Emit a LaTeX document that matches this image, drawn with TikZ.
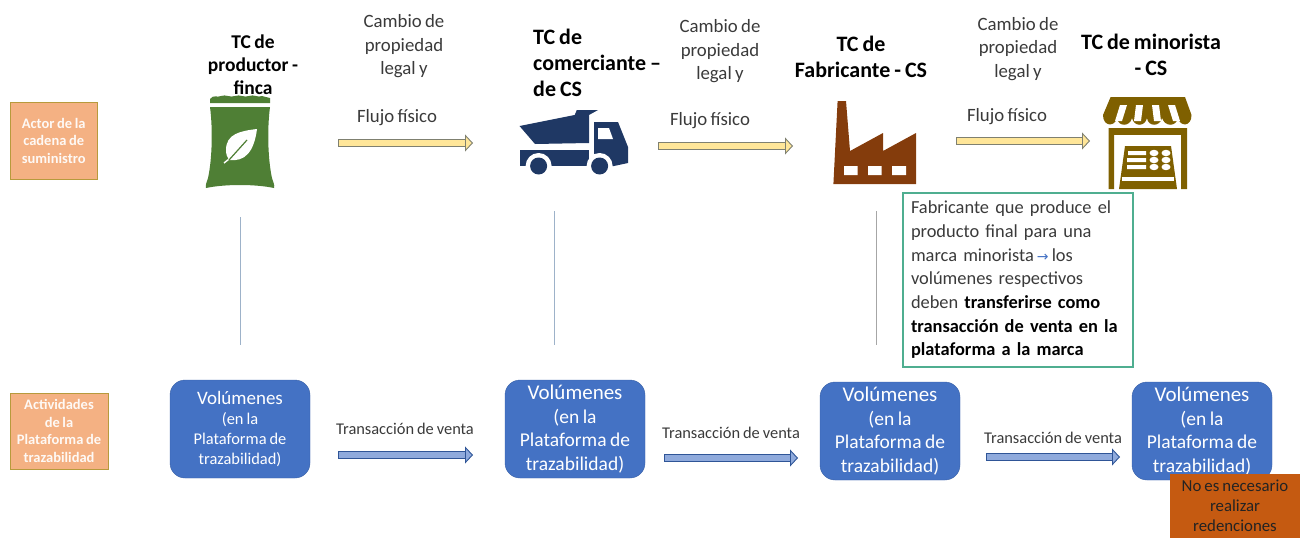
\documentclass[tikz,border=0pt]{standalone}
\usepackage{fontspec}
\setmainfont{Carlito}[WordSpace=0.8]
\newfontfamily\symbfont{DejaVu Sans}
\usetikzlibrary{arrows.meta}
\definecolor{txtgray}{HTML}{3A3A3A}
\definecolor{volblue}{HTML}{4472C4}
\definecolor{actorfill}{HTML}{F4B183}
\definecolor{actoredge}{HTML}{B79A3C}
\definecolor{flowfill}{HTML}{FFE699}
\definecolor{flowedge}{HTML}{7F8070}
\definecolor{ventafill}{HTML}{8FAADC}
\definecolor{ventaedge}{HTML}{2F5597}
\definecolor{bagcol}{HTML}{4F7F35}
\definecolor{truckcol}{HTML}{1F3864}
\definecolor{factcol}{HTML}{843C0C}
\definecolor{shopcol}{HTML}{7F6000}
\definecolor{notecol}{HTML}{4FAE90}
\definecolor{redcol}{HTML}{C55A11}
\definecolor{linecol}{HTML}{9DB2C9}
\tikzset{
  lab/.style={align=center, inner sep=0pt, text=txtgray, font=\fontsize{18.8}{23.5}\selectfont},
  tclab/.style={align=center, inner sep=0pt, text=black, font=\fontsize{22}{26}\selectfont\bfseries},
  small lab/.style={lab, font=\fontsize{16.4}{20}\selectfont},
  actor/.style={draw=actoredge, fill=actorfill, align=center, inner sep=0pt, text=white!92!actorfill,
    font=\fontsize{14.5}{17.5}\selectfont\bfseries},
  vol/.style={fill=volblue, draw=volblue!85!black, rounded corners=15pt, minimum width=140pt, minimum height=98pt,
    align=center, inner sep=0pt, text=white, font=\fontsize{19.5}{23.7}\selectfont},
  flowarr/.style={line cap=rect, line width=.9pt, draw=flowedge, double=flowfill, double distance=6.5pt,
    -{Triangle[length=8pt, width=17pt, line width=.9pt, fill=flowfill, color=flowedge]}},
  ventaarr/.style={line cap=rect, line width=.9pt, draw=ventaedge, double=ventafill, double distance=6.5pt,
    -{Triangle[length=8pt, width=17pt, line width=.9pt, fill=ventafill, color=ventaedge]}},
  vline/.style={draw=linecol, line width=1pt},
}
\begin{document}
\begin{tikzpicture}[x=1pt, y=-1pt]
\useasboundingbox (0,0) rectangle (1300,538);
% row labels
\node[actor, minimum width=87.5pt, minimum height=77pt] (actor) at (53.7,140.5) {Actor de la\\cadena de\\suministro};
\node[actor, minimum width=98pt, minimum height=76pt] (activ) at (59,431) {Actividades\\de la\\Plataforma de\\trazabilidad};
% titles
\node[tclab, font=\fontsize{19.5}{23}\selectfont\bfseries] (tc1) at (253,65) {TC de\\productor -\\finca};
\node[tclab, align=left, anchor=north west] (tc2) at (533,29) {TC de\\comerciante --\\de CS};
\node[tclab] (tc3) at (861,56.5) {TC de\\Fabricante - CS};
\node[tclab] (tc4) at (1151,55) {TC de minorista\\- CS};
% bag
\fill[bagcol] (210,103) -- (210,99) .. controls (214,94) and (217,98) .. (221,96) .. controls (226,94) and (230,98) .. (235,96)
  .. controls (240,94) and (244,98) .. (249,96) .. controls (254,94) and (258,98) .. (262,96) -- (270,98) -- (270,103) -- cycle;
\fill[bagcol] (210,107) -- (270,107) .. controls (267,130) and (268,160) .. (272,178) .. controls (273,182) and (275,185) .. (274,188)
  .. controls (255,184) and (225,184) .. (206,188) .. controls (205,185) and (207,182) .. (208,178) .. controls (212,160) and (213,130) .. (210,107) -- cycle;
\fill[white] (257,129) .. controls (240,131) and (226,134) .. (226,150) .. controls (226,154) and (227,157) .. (229,160)
  .. controls (245,162) and (254,152) .. (257,129) -- cycle;
\draw[white, line width=1.4pt] (229,159) -- (224,163);
\draw[bagcol, line width=1.2pt] (247,140) -- (229,160);
% truck
\fill[truckcol] (519.5,126) -- (574.7,115) -- (576.8,110) -- (598,110) -- (589,115) -- (589,143) -- (535,144) -- cycle;
\fill[truckcol] (519.5,150) -- (589,150) -- (589,166) -- (519.5,166) -- cycle;
\fill[truckcol] (594,122) -- (618,122) -- (628,147) -- (628,163) -- (614,166) -- (594,166) -- cycle;
\fill[white] (538.6,166) circle[radius=13pt] (599.6,166) circle[radius=13pt];
\fill[truckcol] (538.6,166) circle[radius=8.5pt] (599.6,166) circle[radius=8.5pt];
\fill[white] (598,128) -- (609,128) -- (613,139) -- (598,139) -- cycle;
% factory
\fill[factcol] (837.6,101) -- (846,101) -- (850,151) -- (883,133) -- (883,151) -- (916,133) -- (916,184) -- (833.4,184) -- cycle;
\fill[white] (844,166) rectangle (857.5,175) (868,166) rectangle (881.5,175) (892,166) rectangle (906,175);
% shop
\fill[shopcol] (1110.6,97) -- (1185,97) -- (1191.5,115) .. controls (1191.5,127) and (1180,127) .. (1178,118)
  .. controls (1176,127) and (1165,127) .. (1162,118) .. controls (1160,127) and (1148,127) .. (1147,118)
  .. controls (1145,127) and (1134,127) .. (1132,118) .. controls (1130,127) and (1118,127) .. (1117,118)
  .. controls (1115,127) and (1103,127) .. (1103,115) -- cycle;
\fill[white] (1120,105) -- (1127,105) -- (1122,121) -- (1115,121) -- cycle;
\fill[white] (1136,105) -- (1143,105) -- (1141,121) -- (1134,121) -- cycle;
\fill[white] (1152,105) -- (1159,105) -- (1161,121) -- (1154,121) -- cycle;
\fill[white] (1168,105) -- (1175,105) -- (1180,121) -- (1173,121) -- cycle;
\fill[shopcol] (1108.5,128) rectangle (1187,135);
\fill[shopcol] (1108.5,128) rectangle (1114,189) (1181,128) rectangle (1187,189);
\fill[shopcol] (1125,146) -- (1171,146) -- (1177,189) -- (1119,189) -- cycle;
\fill[white] (1122,177) rectangle (1174,180.5);
\fill[white] (1128,151) rectangle (1146,155) (1127,158) rectangle (1146,162) (1127,165) rectangle (1146,169);
\fill[white] (1154,153) ellipse[x radius=4.5pt, y radius=3.2pt] (1166,153) ellipse[x radius=4.5pt, y radius=3.2pt]
  (1154,160) ellipse[x radius=4.5pt, y radius=3.2pt] (1166,160) ellipse[x radius=4.5pt, y radius=3.2pt]
  (1154,167) ellipse[x radius=4.5pt, y radius=3.2pt] (1166,167) ellipse[x radius=4.5pt, y radius=3.2pt];
% upper texts and arrows
\node[lab] (c1) at (404,46.5) {Cambio de\\propiedad\\legal y};
\node[lab] (c2) at (720,51.5) {Cambio de\\propiedad\\legal y};
\node[lab] (c3) at (1018,49) {Cambio de\\propiedad\\legal y};
\node[lab] (ff1) at (397,118) {Flujo físico};
\node[lab] (ff2) at (710,121) {Flujo físico};
\node[lab] (ff3) at (1007,117) {Flujo físico};
\coordinate (f1a) at (342,143);
\coordinate (f1b) at (473,143);
\coordinate (f2a) at (662,146);
\coordinate (f2b) at (793,146);
\coordinate (f3a) at (960,141);
\coordinate (f3b) at (1090,141);
\draw[flowarr] (f1a) -- (f1b);
\draw[flowarr] (f2a) -- (f2b);
\draw[flowarr] (f3a) -- (f3b);
% vertical lines
\coordinate (l1a) at (240,217);
\coordinate (l1b) at (240,345);
\coordinate (l2a) at (554.5,211);
\coordinate (l2b) at (554.5,345);
\coordinate (l3a) at (876.5,211);
\coordinate (l3b) at (876.5,345);
\draw[vline] (l1a) -- (l1b);
\draw[vline] (l2a) -- (l2b);
\draw[vline, draw=gray!70] (l3a) -- (l3b);
% note
\node[draw=notecol, line width=1.2pt, minimum width=230pt, minimum height=174pt, inner sep=0pt, text width=214pt,
  align=left, text=txtgray, font=\fontsize{18.4}{23.65}\selectfont] (note) at (1018,280)
  {Fabricante que produce el\\producto final para una\\marca minorista\,{\symbfont\fontsize{14}{14}\selectfont\color{volblue}→}\,los\\volúmenes respectivos\\deben {\bfseries\color{black}transferirse como}\\{\bfseries\color{black}transacción de venta en la}\\{\bfseries\color{black}plataforma a la marca}};
% volumes
\node[vol, font=\fontsize{16.4}{20}\selectfont] (v1) at (240,429) {{\fontsize{19}{20}\selectfont Volúmenes}\\(en la\\Plataforma de\\trazabilidad)};
\node[vol] (v2) at (575,429) {{\fontsize{21}{24}\selectfont Volúmenes}\\(en la\\Plataforma de\\trazabilidad)};
\node[vol] (v3) at (890,431) {{\fontsize{21}{24}\selectfont Volúmenes}\\(en la\\Plataforma de\\trazabilidad)};
\node[vol] (v4) at (1202,431) {{\fontsize{21}{24}\selectfont Volúmenes}\\(en la\\Plataforma de\\trazabilidad)};
% sales
\node[small lab] (t1) at (405,429) {Transacción de venta};
\node[small lab] (t2) at (731,433) {Transacción de venta};
\node[small lab] (t3) at (1053,438) {Transacción de venta};
\coordinate (s1a) at (342,455);
\coordinate (s1b) at (473,455);
\coordinate (s2a) at (668,458);
\coordinate (s2b) at (798,458);
\coordinate (s3a) at (990,457);
\coordinate (s3b) at (1120,457);
\draw[ventaarr] (s1a) -- (s1b);
\draw[ventaarr] (s2a) -- (s2b);
\draw[ventaarr] (s3a) -- (s3b);
% no redemption box
\node[fill=redcol, minimum width=130pt, minimum height=64pt, inner sep=0pt, align=center, text=txtgray!60!black,
  font=\fontsize{16.8}{20}\selectfont] (red) at (1235,506) {No es necesario\\realizar\\redenciones};
\end{tikzpicture}
\end{document}
